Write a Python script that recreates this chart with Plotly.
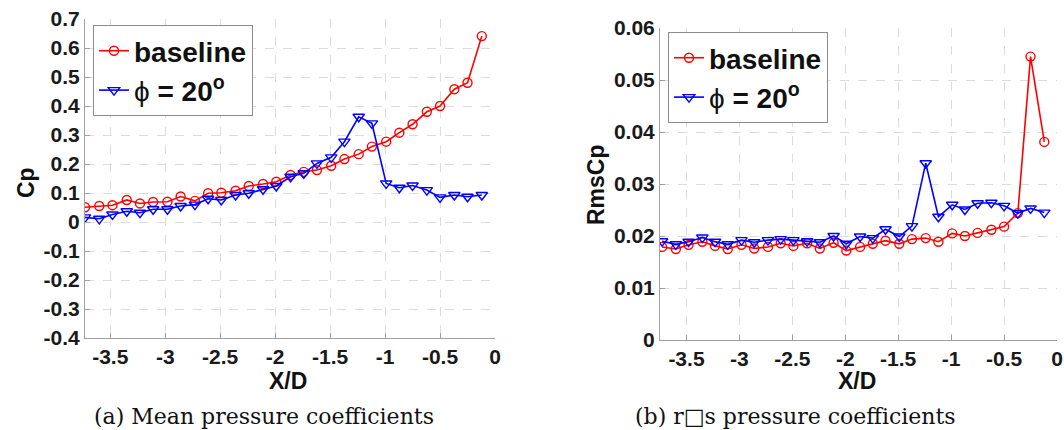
import plotly.graph_objects as go

# ---- data ----
x_pos = [-3.73, -3.60, -3.48, -3.35, -3.23, -3.11, -2.98, -2.86, -2.73, -2.61,
         -2.49, -2.36, -2.24, -2.11, -1.99, -1.86, -1.74, -1.62, -1.49, -1.37,
         -1.24, -1.12, -0.99, -0.87, -0.75, -0.62, -0.50, -0.37, -0.25, -0.12]

cp_baseline = [0.051, 0.055, 0.058, 0.076, 0.064, 0.069, 0.070, 0.088, 0.073, 0.099,
               0.101, 0.108, 0.124, 0.131, 0.139, 0.162, 0.173, 0.179, 0.194, 0.217,
               0.234, 0.260, 0.277, 0.308, 0.337, 0.380, 0.400, 0.458, 0.480, 0.641]
cp_phi20 = [0.016, 0.011, 0.026, 0.037, 0.032, 0.044, 0.044, 0.055, 0.060, 0.080,
            0.076, 0.093, 0.099, 0.113, 0.124, 0.156, 0.168, 0.202, 0.223, 0.277,
            0.363, 0.340, 0.133, 0.118, 0.126, 0.110, 0.085, 0.093, 0.087, 0.093]

rms_baseline = [0.0179, 0.0175, 0.0183, 0.0189, 0.0181, 0.0175, 0.0183, 0.0176, 0.0179, 0.0186,
                0.0181, 0.0186, 0.0176, 0.0187, 0.0172, 0.0179, 0.0185, 0.0191, 0.0185, 0.0194,
                0.0196, 0.0189, 0.0205, 0.0200, 0.0206, 0.0212, 0.0218, 0.0244, 0.0545, 0.0381]
rms_phi20 = [0.0190, 0.0184, 0.0189, 0.0197, 0.0189, 0.0184, 0.0192, 0.0188, 0.0192, 0.0194,
             0.0192, 0.0190, 0.0188, 0.0200, 0.0185, 0.0199, 0.0196, 0.0213, 0.0199, 0.0219,
             0.0340, 0.0237, 0.0260, 0.0251, 0.0263, 0.0264, 0.0258, 0.0244, 0.0253, 0.0245]

x_ticks = [-3.5, -3, -2.5, -2, -1.5, -1, -0.5, 0]
x_tick_text = ["-3.5", "-3", "-2.5", "-2", "-1.5", "-1", "-0.5", "0"]
cp_ticks = [0.7, 0.6, 0.5, 0.4, 0.3, 0.2, 0.1, 0, -0.1, -0.2, -0.3, -0.4]
cp_tick_text = ["0.7", "0.6", "0.5", "0.4", "0.3", "0.2", "0.1", "0", "-0.1", "-0.2", "-0.3", "-0.4"]
rms_ticks = [0, 0.01, 0.02, 0.03, 0.04, 0.05, 0.06]
rms_tick_text = ["0", "0.01", "0.02", "0.03", "0.04", "0.05", "0.06"]

series_names = ["baseline", "<span style='font-weight:normal'>ϕ</span> = 20<sup>o</sup>"]
caption_a = "(a) Mean pressure coefficients"
caption_b = "(b) r\u25a1s pressure coefficients"

RED = "#ff0000"
BLUE = "#0000ff"
W, H = 1064, 430

fig = go.Figure()

def add(x, y, name, color, symbol, size, xa, ya, legend):
    fig.add_trace(go.Scatter(
        x=x, y=y, name=name, mode="lines+markers",
        line=dict(color=color, width=1.6),
        marker=dict(symbol=symbol, size=size, color=color,
                    line=dict(color=color, width=1.4)),
        xaxis=xa, yaxis=ya, legend=legend))

add(x_pos, cp_baseline, series_names[0], RED, "circle-open", 9, "x", "y", "legend")
add(x_pos, cp_phi20, series_names[1], BLUE, "triangle-down-open", 10, "x", "y", "legend")
add(x_pos, rms_baseline, series_names[0], RED, "circle-open", 9, "x2", "y2", "legend2")
add(x_pos, rms_phi20, series_names[1], BLUE, "triangle-down-open", 10, "x2", "y2", "legend2")

tickfont = dict(family="Liberation Sans", size=21, color="#1a1a1a", weight="bold")
common_x = dict(tickvals=x_ticks, ticktext=x_tick_text, tickfont=tickfont,
                showgrid=True, gridcolor="#dcdcdc", griddash="dash", gridwidth=1,
                showline=True, linecolor="#a0a0a0", linewidth=1,
                ticks="inside", ticklen=5, tickcolor="#a0a0a0",
                zeroline=False, automargin=False)
common_y = dict(tickfont=tickfont,
                showgrid=True, gridcolor="#dcdcdc", griddash="dash", gridwidth=1,
                showline=True, linecolor="#a0a0a0", linewidth=1,
                ticks="inside", ticklen=5, tickcolor="#a0a0a0",
                zeroline=False, automargin=False)

legfont = dict(family="Liberation Sans", size=28, color="#111", weight="bold")
fig.update_layout(
    width=W, height=H,
    margin=dict(l=0, r=0, t=0, b=0),
    paper_bgcolor="white", plot_bgcolor="white",
    xaxis=dict(domain=[85 / W, 495 / W], anchor="y", range=[-3.73, 0], **common_x),
    yaxis=dict(domain=[1 - 338 / H, 1 - 19 / H], anchor="x", range=[-0.4, 0.7],
               tickvals=cp_ticks, ticktext=cp_tick_text, **common_y),
    xaxis2=dict(domain=[660 / W, 1057 / W], anchor="y2", range=[-3.75, 0], **common_x),
    yaxis2=dict(domain=[1 - 340 / H, 1 - 28 / H], anchor="x2", range=[0, 0.06],
                tickvals=rms_ticks, ticktext=rms_tick_text, **common_y),
    legend=dict(x=93 / W, y=1 - 25 / H, xanchor="left", yanchor="top",
                bgcolor="white", bordercolor="#8c8c8c", borderwidth=1,
                font=legfont, itemwidth=30, tracegroupgap=0),
    legend2=dict(x=668 / W, y=1 - 32 / H, xanchor="left", yanchor="top",
                 bgcolor="white", bordercolor="#8c8c8c", borderwidth=1,
                 font=legfont, itemwidth=30, tracegroupgap=0),
    showlegend=True,
)

labfont = dict(family="Liberation Sans", size=23, color="#111", weight="bold")

def ann(text, x, y, font, angle=0):
    fig.add_annotation(text=text, x=x / W, y=1 - y / H, xref="paper", yref="paper",
                       xanchor="center", yanchor="middle", textangle=angle,
                       showarrow=False, font=font)

ann("Cp", 26, 183, labfont, -90)
ann("RmsCp", 596, 185, labfont, -90)
ann("X/D", 288, 381, labfont)
ann("X/D", 857, 381, labfont)

capfont = dict(family="DejaVu Serif", size=22, color="#111")
ann(caption_a, 264, 416, capfont)
ann(caption_b, 795, 416, capfont)

fig.write_html("out.html", config={"displayModeBar": False},
               post_script="document.body.style.margin='0';document.body.style.overflow='hidden';")
